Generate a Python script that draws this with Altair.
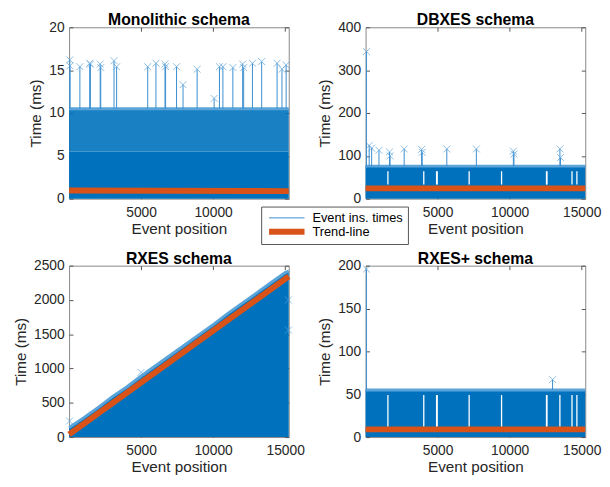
import altair as alt
import pandas as pd

BLUE = "#0072BD"
MID = "#3A8DCF"
LIGHT = "#5BA4DA"
ORANGE = "#D95319"
FONT = "Liberation Sans"
CROSS = "M-1,-1L1,1M-1,1L1,-1"

X_END = 15250
X_TICKS = [5000, 10000, 15000]
SERIES = ["Event ins. times", "Trend-line"]

# ---------------- Monolithic schema ----------------
mono_title = "Monolithic schema"
mono_y_max = 20
mono_y_ticks = [0, 5, 10, 15, 20]
mono_band_x = [0, 15250]
mono_core_top = [5.5, 5.5]
mono_dense_top = [10.5, 10.5]
mono_spike_x = [50, 60, 750, 1430, 1480, 2160, 2200, 3120, 3300, 5460, 6030, 6660, 6700, 7460,
                7910, 8890, 10070, 10440, 10680, 11370, 12050, 12120, 12730, 13370, 14440, 14780, 15070]
mono_spike_y = [16.2, 15.5, 15.4, 15.8, 15.7, 15.7, 15.3, 16.1, 15.4, 15.4, 15.8, 15.7, 15.4, 15.4,
                13.3, 15.1, 11.7, 15.4, 15.4, 15.3, 15.7, 15.3, 15.8, 16.0, 15.8, 15.1, 15.6]
mono_spike_base = [10.5] * len(mono_spike_x)
mono_trend_x = [0, 15250]
mono_trend_y = [0.95, 0.88]

# ---------------- DBXES schema ----------------
db_title = "DBXES schema"
db_y_max = 400
db_y_ticks = [0, 100, 200, 300, 400]
db_band_x = [0, 15250]
db_core_top = [76, 76]
db_gap_x = [1550, 4040, 4930, 4970, 7190, 9440, 12560, 12590, 14330, 14670]
db_gap_low = [33] * len(db_gap_x)
db_gap_high = [64] * len(db_gap_x)
db_spike_x = [60, 250, 420, 930, 1660, 1700, 2680, 3890, 3930, 5640, 7690, 10260, 10300, 13490, 13530]
db_spike_y = [343, 124, 118, 113, 109, 100, 116, 115, 108, 116, 116, 111, 104, 116, 96]
db_spike_base = [76] * len(db_spike_x)
db_trend_x = [0, 15250]
db_trend_y = [24, 24]

# ---------------- RXES schema ----------------
rx_title = "RXES schema"
rx_y_max = 2500
rx_y_ticks = [0, 500, 1000, 1500, 2000, 2500]
rx_band_x = [0, 1000, 2000, 3000, 4000, 5000, 6000, 7000, 8000, 9000, 10000,
             11000, 12000, 13000, 14000, 15000, 15250]
rx_core_top = [140, 280, 430, 590, 730, 890, 1040, 1190, 1340, 1490, 1640,
               1800, 1950, 2100, 2250, 2400, 2420]
rx_spike_x = [30, 5000, 15230, 15230]
rx_spike_y = [234, 944, 2000, 1560]
rx_trend_x = [0, 15250]
rx_trend_y = [40, 2345]

# ---------------- RXES+ schema ----------------
rp_title = "RXES+ schema"
rp_y_max = 200
rp_y_ticks = [0, 50, 100, 150, 200]
rp_band_x = [0, 15250]
rp_core_top = [55, 55]
rp_gap_x = [1550, 4040, 4930, 4970, 7190, 9440, 12560, 12590, 13490, 14330, 14670]
rp_gap_low = [12] * len(rp_gap_x)
rp_gap_high = [49] * len(rp_gap_x)
rp_spike_x = [60, 12980]
rp_spike_y = [196, 67]
rp_spike_base = [55, 55]
rp_trend_x = [0, 15250]
rp_trend_y = [9, 9]


def panel(title, y_max, y_ticks, band_x, band_top, trend_x, trend_y,
          spike_x, spike_y, spike_base=None, dense_top=None,
          gap_x=None, gap_low=None, gap_high=None, legend=False):
    xs = alt.Scale(domain=[0, X_END], nice=False, zero=False)
    ys = alt.Scale(domain=[0, y_max], nice=False)
    ax_bottom = alt.Axis(orient="bottom", values=X_TICKS, format="d", offset=-4, tickSize=4,
                         domain=False, grid=False, labelPadding=7, titlePadding=2,
                         title="Event position", labelOverlap=False)
    ax_left = alt.Axis(orient="left", values=y_ticks, format="d", offset=-4, tickSize=4,
                       domain=False, grid=False, labelPadding=5, titlePadding=5,
                       title="Time (ms)", labelOverlap=False)
    ax_top = alt.Axis(orient="top", values=X_TICKS, offset=-4, tickSize=4, domain=False,
                      grid=False, labels=False, title=None)
    ax_right = alt.Axis(orient="right", values=y_ticks, offset=-4, tickSize=4, domain=False,
                        grid=False, labels=False, title=None)

    layers = []
    band = pd.DataFrame({"x": band_x, "top": band_top})
    layers.append(alt.Chart(band).mark_area(color=BLUE).encode(
        x=alt.X("x:Q", scale=xs, axis=ax_bottom),
        y=alt.Y("top:Q", scale=ys, axis=ax_left)))
    if dense_top is not None:
        dense = pd.DataFrame({"x": band_x, "low": band_top, "top": dense_top})
        layers.append(alt.Chart(dense).mark_area(color=BLUE, opacity=0.9).encode(
            x=alt.X("x:Q", scale=xs, axis=None),
            y=alt.Y("low:Q", scale=ys, axis=None), y2="top:Q"))
        layers.append(alt.Chart(dense).mark_line(color=LIGHT, strokeWidth=3).encode(
            x=alt.X("x:Q", scale=xs, axis=None), y=alt.Y("top:Q", scale=ys, axis=None)))
    else:
        layers.append(alt.Chart(band).mark_line(color=LIGHT, strokeWidth=3).encode(
            x=alt.X("x:Q", scale=xs, axis=None), y=alt.Y("top:Q", scale=ys, axis=None)))
    if gap_x is not None:
        gaps = pd.DataFrame({"x": gap_x, "low": gap_low, "high": gap_high})
        layers.append(alt.Chart(gaps).mark_rule(color="white", strokeWidth=1.3).encode(
            x=alt.X("x:Q", scale=xs, axis=None),
            y=alt.Y("low:Q", scale=ys, axis=None), y2="high:Q"))
    spikes = pd.DataFrame({"x": spike_x, "y": spike_y})
    if spike_base is not None:
        spikes["base"] = spike_base
        layers.append(alt.Chart(spikes).mark_rule(color=MID, strokeWidth=1).encode(
            x=alt.X("x:Q", scale=xs, axis=None),
            y=alt.Y("base:Q", scale=ys, axis=None), y2="y:Q"))
    layers.append(alt.Chart(spikes).mark_point(shape=CROSS, filled=False, size=49,
                                               color=LIGHT, strokeWidth=1).encode(
        x=alt.X("x:Q", scale=xs, axis=None), y=alt.Y("y:Q", scale=ys, axis=None)))

    trend = pd.DataFrame({"x": trend_x, "y": trend_y, "series": "Trend-line"})
    if legend:
        color = alt.Color("series:N", scale=alt.Scale(domain=SERIES, range=[MID, ORANGE]),
                          legend=alt.Legend(title=None, orient="none", legendX=195, legendY=182,
                                            fillColor="white", strokeColor="#555", padding=5,
                                            labelFontSize=13, labelFont=FONT, labelColor="black",
                                            symbolType="stroke", symbolSize=1296, rowPadding=-1,
                                            clipHeight=13, labelOffset=5))
        sw = alt.StrokeWidth("series:N", scale=alt.Scale(type="ordinal", domain=SERIES, range=[1, 6]),
                             legend=alt.Legend(title=None, orient="none", legendX=195, legendY=182))
        tl = alt.Chart(trend).mark_line().encode(
            x=alt.X("x:Q", scale=xs, axis=ax_top), y=alt.Y("y:Q", scale=ys, axis=ax_right),
            color=color, strokeWidth=sw)
    else:
        tl = alt.Chart(trend).mark_line(color=ORANGE, strokeWidth=6).encode(
            x=alt.X("x:Q", scale=xs, axis=ax_top), y=alt.Y("y:Q", scale=ys, axis=ax_right))
    layers.append(tl)

    return alt.layer(*layers).resolve_axis(x="independent", y="independent").properties(
        width=223, height=174,
        title=alt.TitleParams(title, frame="group", anchor="middle", offset=-8))


p1 = panel(mono_title, mono_y_max, mono_y_ticks, mono_band_x, mono_core_top, mono_trend_x, mono_trend_y,
           mono_spike_x, mono_spike_y, spike_base=mono_spike_base, dense_top=mono_dense_top, legend=True)
p2 = panel(db_title, db_y_max, db_y_ticks, db_band_x, db_core_top, db_trend_x, db_trend_y,
           db_spike_x, db_spike_y, spike_base=db_spike_base,
           gap_x=db_gap_x, gap_low=db_gap_low, gap_high=db_gap_high)
p3 = panel(rx_title, rx_y_max, rx_y_ticks, rx_band_x, rx_core_top, rx_trend_x, rx_trend_y,
           rx_spike_x, rx_spike_y)
p4 = panel(rp_title, rp_y_max, rp_y_ticks, rp_band_x, rp_core_top, rp_trend_x, rp_trend_y,
           rp_spike_x, rp_spike_y, spike_base=rp_spike_base,
           gap_x=rp_gap_x, gap_low=rp_gap_low, gap_high=rp_gap_high)

chart = alt.concat(p1, p2, p3, p4, columns=2, spacing={"row": 13, "column": 12}).properties(
    padding={"left": 5, "top": 0, "right": 0, "bottom": 0}
).configure_axis(
    labelFont=FONT, titleFont=FONT, labelFontSize=14, titleFontSize=15.5,
    titleFontWeight="normal", labelColor="#262626", titleColor="#262626", tickColor="#555555"
).configure_title(
    font=FONT, fontSize=16, fontWeight="bold", color="black"
).configure_view(stroke="#888888")

chart.save("out.html", embed_options={"renderer": "svg", "actions": False})
